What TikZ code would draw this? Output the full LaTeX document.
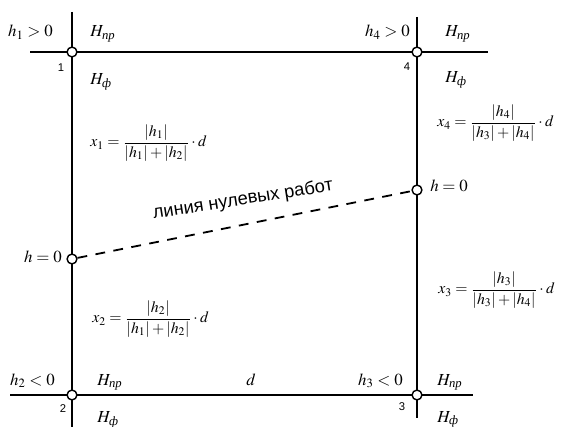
\documentclass[tikz,border=0pt]{standalone}
\usepackage{amsmath}
\usepackage{mathptmx}
\usepackage{fontspec}
\setmainfont{Liberation Serif}
\newfontfamily\labelsans{Liberation Sans}
\usepackage{tikz}
\usetikzlibrary{positioning, backgrounds}

\newcommand{\Hpr}{H_{\text{\itshape пр}}}
\newcommand{\Hf}{H_{\text{\itshape ф}}}

\tikzset{
  grid line/.style={line width=1.3pt},
  zero point/.style={circle, draw, line width=1pt, fill=white, inner sep=0pt, minimum size=7pt},
  corner num/.style={font=\labelsans\footnotesize, inner sep=0pt},
  lbl/.style={font=\fontsize{12}{14}\selectfont, inner sep=0pt},
  formula/.style={font=\fontsize{11.2}{13}\selectfont, inner sep=0pt, anchor=west},
  zero line/.style={line width=1.3pt, dash pattern=on 7pt off 6pt},
}

\begin{document}
\begin{tikzpicture}[x=0.025cm, y=-0.025cm]
  \useasboundingbox (0,0) rectangle (561,427);

  \node[zero point] (p1) at (72,52) {};
  \node[zero point] (p4) at (417,52) {};
  \node[zero point] (p2) at (72,395) {};
  \node[zero point] (p3) at (417,395) {};
  \node[zero point] (z1) at (72,259) {};
  \node[zero point] (z2) at (417,190) {};

  \coordinate (left top) at (72,12);
  \coordinate (left bot) at (72,427);
  \coordinate (right top) at (417,17);
  \coordinate (right bot) at (417,418);
  \coordinate (top west) at (30,52);
  \coordinate (top east) at (488,52);
  \coordinate (bot west) at (10,395);
  \coordinate (bot east) at (473,395);

  \begin{scope}[on background layer]
    \draw[grid line] (left top) -- (p1.center) -- (z1.center) -- (p2.center) -- (left bot);
    \draw[grid line] (right top) -- (p4.center) -- (z2.center) -- (p3.center) -- (right bot);
    \draw[grid line] (top west) -- (p1.center) -- (p4.center) -- (top east);
    \draw[grid line] (bot west) -- (p2.center) -- (p3.center) -- (bot east);
  \end{scope}

  \draw[zero line] (z1) -- (z2);
  \node[font=\labelsans\fontsize{13}{15}\selectfont, rotate=9] (zero label) at (243,200) {линия нулевых работ};

  % corner 1
  \node[lbl, anchor=base east] (h1) at (53,37) {$h_1>0$};
  \node[lbl, anchor=base west] (pr1) at (90,37) {$\Hpr$};
  \node[lbl, anchor=base west] (f1) at (90,85) {$\Hf$};
  \node[corner num] (n1) at (61,68) {1};
  % corner 4
  \node[lbl, anchor=base east] (h4) at (410,37) {$h_4>0$};
  \node[lbl, anchor=base west] (pr4) at (445,37) {$\Hpr$};
  \node[lbl, anchor=base west] (f4) at (445,83) {$\Hf$};
  \node[corner num] (n4) at (407,67) {4};
  % corner 2
  \node[lbl, anchor=base east] (h2) at (55,385) {$h_2<0$};
  \node[lbl, anchor=base west] (pr2) at (97,385) {$\Hpr$};
  \node[lbl, anchor=base west] (f2) at (97,423) {$\Hf$};
  \node[corner num] (n2) at (63,409) {2};
  % corner 3
  \node[lbl, anchor=base east] (h3) at (403,385) {$h_3<0$};
  \node[lbl, anchor=base west] (pr3) at (437,385) {$\Hpr$};
  \node[lbl, anchor=base west] (f3) at (437,422) {$\Hf$};
  \node[corner num] (n3) at (402,407) {3};

  \node[lbl, anchor=base] (dist) at (251,385) {$d$};
  \node[lbl, anchor=base east] (h0 left) at (62,263) {$h=0$};
  \node[lbl, anchor=base west] (h0 right) at (430,192) {$h=0$};

  \node[formula] (fx1) at (90,143) {$x_1=\dfrac{|h_1|}{|h_1|+|h_2|}\cdot d$};
  \node[formula] (fx2) at (92,319) {$x_2=\dfrac{|h_2|}{|h_1|+|h_2|}\cdot d$};
  \node[formula] (fx3) at (438,290) {$x_3=\dfrac{|h_3|}{|h_3|+|h_4|}\cdot d$};
  \node[formula] (fx4) at (437,123) {$x_4=\dfrac{|h_4|}{|h_3|+|h_4|}\cdot d$};
\end{tikzpicture}
\end{document}
